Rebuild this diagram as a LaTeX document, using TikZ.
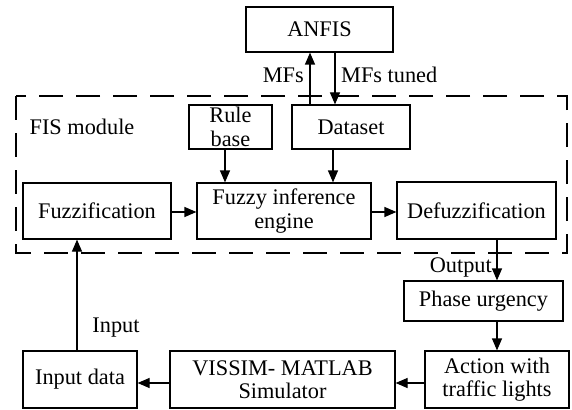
\documentclass[tikz,border=0pt]{standalone}
\usepackage{fontspec}
\setmainfont{Liberation Serif}
\usetikzlibrary{arrows.meta}
\begin{document}
\begin{tikzpicture}[x=1pt,y=-1pt,
  box/.style={draw,line width=1.2pt,inner sep=0pt,align=center,font=\fontsize{22.3}{23.5}\selectfont},
  lbl/.style={font=\fontsize{22.3}{23.5}\selectfont,inner sep=0pt},
  link/.style={line width=1.2pt,-{Triangle[length=12pt,width=10pt]}},
  frame/.style={line width=1.2pt,dash pattern=on 24pt off 13pt}]
\useasboundingbox (0,0) rectangle (572,409);

% FIS module frame
\draw[frame] (16,96) rectangle (567,253);
\node[lbl] (fislbl) at (82,127) {FIS module};

% blocks
\node[box,minimum width=147pt,minimum height=45pt] (anfis) at (319.5,29.5) {ANFIS};
\node[box,minimum width=83pt,minimum height=44pt] (rule) at (230.5,127) {Rule\\base};
\node[box,minimum width=118pt,minimum height=44pt] (data) at (351,127) {Dataset};
\node[box,minimum width=148pt,minimum height=56pt] (fuzz) at (97,211) {Fuzzification};
\node[box,minimum width=174pt,minimum height=56pt] (engine) at (284,211) {Fuzzy inference\\engine};
\node[box,minimum width=159pt,minimum height=57pt] (defuzz) at (476.5,210.5) {Defuzzification};
\node[box,minimum width=159pt,minimum height=40pt] (phase) at (483.5,301) {Phase urgency};
\node[box,minimum width=144pt,minimum height=57pt] (action) at (497,379.5) {Action with\\traffic lights};
\node[box,minimum width=225pt,minimum height=57pt] (vissim) at (282.5,379.5) {VISSIM- MATLAB\\Simulator};
\node[box,minimum width=114pt,minimum height=57pt] (input) at (80,379.5) {Input data};

% connectors
\coordinate (xmf) at (310,0);
\coordinate (xtuned) at (335,0);
\coordinate (xrule) at (225,0);
\coordinate (xdata) at (333,0);
\coordinate (xout) at (497,0);
\coordinate (xin) at (77,0);
\coordinate (yfwd) at (0,212);
\coordinate (ysim) at (0,383);

\draw[link] (data.north -| xmf) -- (anfis.south -| xmf);
\draw[link] (anfis.south -| xtuned) -- (data.north -| xtuned);
\draw[link] (rule.south -| xrule) -- (engine.north -| xrule);
\draw[link] (data.south -| xdata) -- (engine.north -| xdata);
\draw[link] (fuzz.east |- yfwd) -- (engine.west |- yfwd);
\draw[link] (engine.east |- yfwd) -- (defuzz.west |- yfwd);
\draw[link] (defuzz.south -| xout) -- (phase.north -| xout);
\draw[link] (phase.south -| xout) -- (action.north -| xout);
\draw[link] (action.west |- ysim) -- (vissim.east |- ysim);
\draw[link] (vissim.west |- ysim) -- (input.east |- ysim);
\draw[link] (input.north -| xin) -- (fuzz.south -| xin);

% labels
\node[lbl,anchor=east] (mfs) at (304,75) {MFs};
\node[lbl,anchor=west] (mfst) at (341,75) {MFs tuned};
\node[lbl,anchor=east] (outlbl) at (492,267) {Output};
\node[lbl] (inlbl) at (116,328) {Input};
\end{tikzpicture}
\end{document}
